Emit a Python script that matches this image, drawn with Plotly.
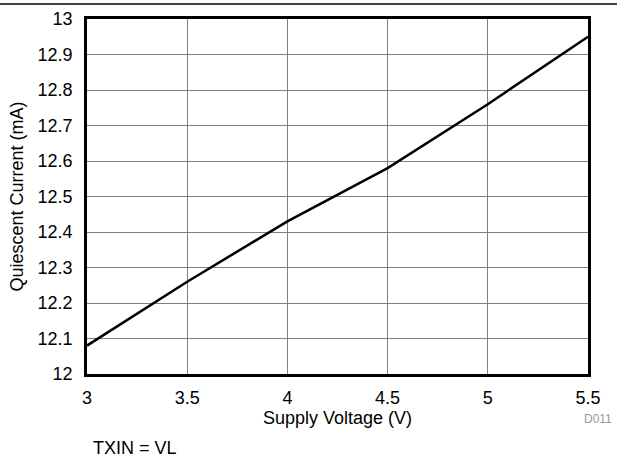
import plotly.graph_objects as go

# Quiescent current vs supply voltage (TXIN = VL)
supply_voltage = [3.0, 3.5, 4.0, 4.5, 5.0, 5.5]
quiescent_ma = [12.08, 12.26, 12.43, 12.58, 12.76, 12.95]

x_ticks = [3, 3.5, 4, 4.5, 5, 5.5]
y_ticks = [12.0, 12.1, 12.2, 12.3, 12.4, 12.5, 12.6, 12.7, 12.8, 12.9, 13.0]

FONT = "Liberation Sans, Arial, sans-serif"

fig = go.Figure()
fig.add_trace(go.Scatter(
    x=supply_voltage, y=quiescent_ma, mode="lines",
    line=dict(color="black", width=2.5), showlegend=False,
))

axis_common = dict(
    showgrid=True, gridcolor="#808080", gridwidth=1,
    showline=True, linecolor="black", linewidth=2.5, mirror=True,
    zeroline=False, ticks="",
    tickfont=dict(family=FONT, size=18, color="black"),
)

fig.update_xaxes(
    range=[3, 5.5], tickvals=x_ticks, ticktext=[f"{v:g}" for v in x_ticks],
    title=dict(text="Supply Voltage (V)", font=dict(family=FONT, size=18, color="black"), standoff=2),
    ticklabelstandoff=6,
    **axis_common,
)
fig.update_yaxes(
    range=[12, 13], tickvals=y_ticks, ticktext=[f"{v:g}" for v in y_ticks],
    title=dict(text="Quiescent Current (mA)", font=dict(family=FONT, size=18, color="black"), standoff=10),
    ticklabelstandoff=8,
    **axis_common,
)

fig.update_layout(
    width=617, height=459,
    margin=dict(l=87, r=29, t=19, b=85, autoexpand=False),
    paper_bgcolor="white", plot_bgcolor="white",
    font=dict(family=FONT),
    shapes=[dict(
        type="line", xref="paper", yref="paper",
        x0=-87 / 501, x1=(617 - 87) / 501, y0=(459 - 85 - 4) / 355, y1=(459 - 85 - 4) / 355,
        line=dict(color="black", width=1.5),
    )],
    annotations=[
        dict(text="D011", xref="paper", yref="paper", x=(614 - 87) / 501, y=-(419 - 374) / 355,
             xanchor="right", yanchor="middle", showarrow=False,
             font=dict(family=FONT, size=12, color="#999999")),
        dict(text="TXIN = VL", xref="paper", yref="paper", x=(91 - 87) / 501, y=-(448 - 374) / 355,
             xanchor="left", yanchor="middle", showarrow=False,
             font=dict(family=FONT, size=18, color="black")),
    ],
)

fig.write_html("out.html")
